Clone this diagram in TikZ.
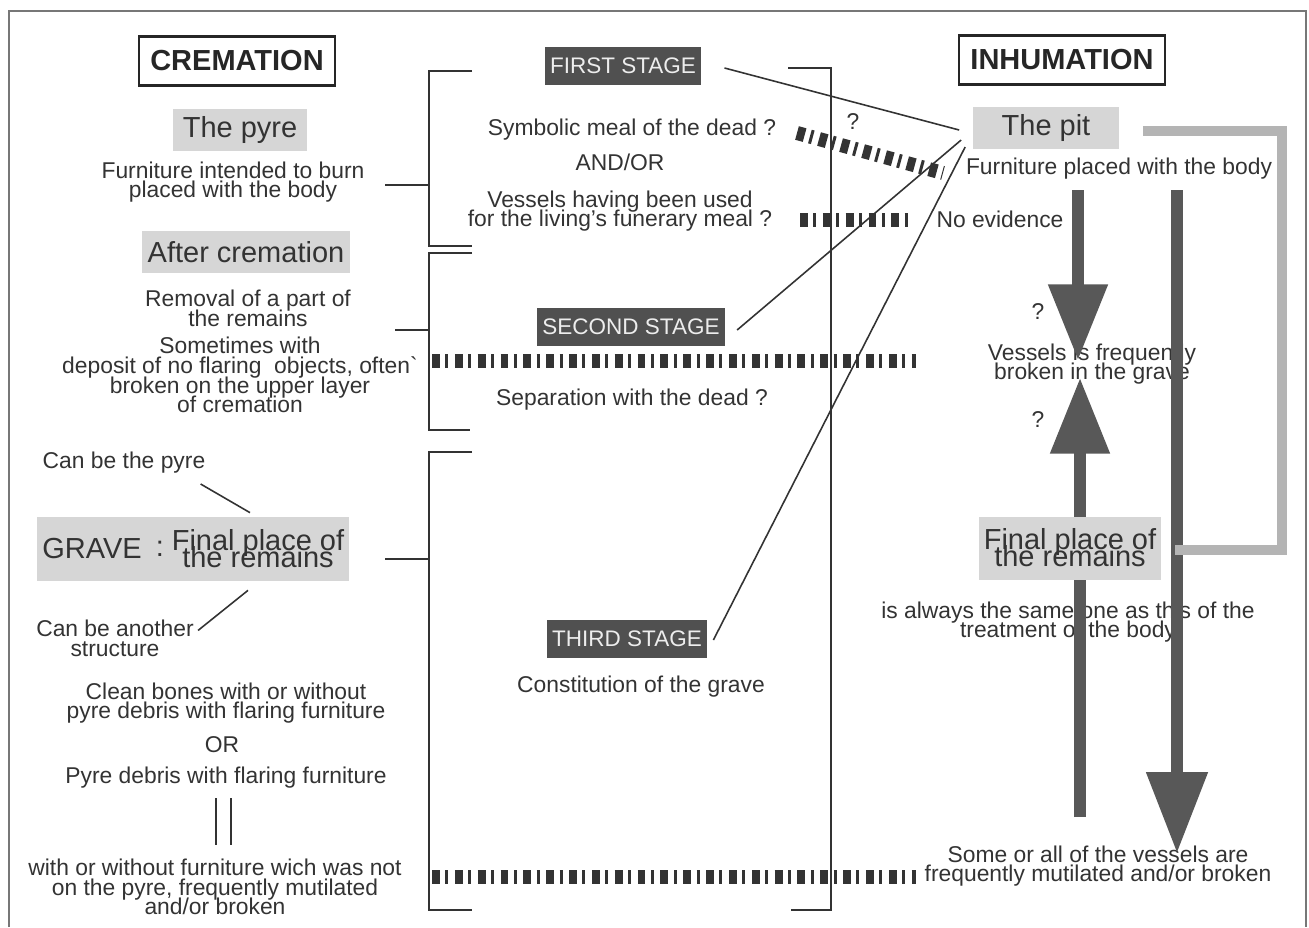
\documentclass[tikz,border=0pt]{standalone}
\usepackage{fontspec}
\setmainfont{Liberation Sans}
\usetikzlibrary{arrows.meta}
\definecolor{Ink}{HTML}{333333}
\definecolor{BoxGray}{HTML}{D6D6D6}
\definecolor{StageGray}{HTML}{505050}
\definecolor{StageText}{HTML}{EDEDED}
\definecolor{ArrowGray}{HTML}{585858}
\definecolor{LoopGray}{HTML}{B4B4B4}
\definecolor{FrameGray}{HTML}{777777}

\begin{document}
\begin{tikzpicture}[x=0.02cm,y=-0.02cm,
      txt/.style={text=Ink,align=center,inner sep=0pt,
                  font={\fontsize{13}{11.2}\selectfont\lineskiplimit=-\maxdimen}},
      big/.style={text=Ink,align=center,inner sep=0pt,
                  font={\fontsize{16.5}{9.8}\selectfont\lineskiplimit=-\maxdimen}},
      hd/.style={draw=black!85,line width=1.4pt,font=\bfseries\fontsize{16.5}{19}\selectfont,
                 text=black!85,inner xsep=6.5pt,minimum height=28pt},
      gbox/.style={big,fill=BoxGray,inner xsep=3pt,minimum height=24pt},
      stg/.style={fill=StageGray,text=StageText,font=\fontsize{12.8}{15}\selectfont,
                  inner xsep=3pt,minimum height=21.5pt},
      brk/.style={draw=Ink,line width=1.1pt},
      ln/.style={draw=Ink,line width=0.9pt},
      bar/.style={draw=Ink,line width=8pt,dash pattern=on 4.5pt off 3.1pt on 1.7pt off 3.7pt},
      fat/.style={ArrowGray,line width=6.3pt,-{Triangle[length=43pt,width=32.5pt]}},
      loop/.style={LoopGray,line width=5.7pt}]
    \useasboundingbox (0,0) rectangle (1309,927);
    \draw[FrameGray,line width=0.6pt] (9,927) -- (9,11) -- (1306,11) -- (1306,927);

    % cremation side
    \node[hd] (crem) at (237,61) {CREMATION};
    \node[gbox,minimum width=2.7cm] (pyre) at (240,130) {The pyre};
    \node[txt] (burn) at (233,182) {Furniture intended to burn\\placed with the body};
    \node[gbox] (after) at (246,252) {After cremation};
    \node[txt] (remov) at (248,308) {Removal of a part of\\the remains};
    \node[txt] (often) at (240,375) {Sometimes with\\deposit of no flaring\ \ objects, often\textasciigrave\\broken on the upper layer\\of cremation};
    \node[txt] (canpyre) at (124,463) {Can be the pyre};
    \node[gbox,minimum width=6.26cm,minimum height=1.28cm] (grave) at (193,549) {};
    \node[big] (gravet) at (92,549) {GRAVE};
    \node[big] (colon) at (160,549) {:};
    \node[big] (finalc) at (258,549) {Final place of\\the remains};
    \node[txt] (canoth) at (115,638) {Can be another\\structure};
    \node[txt] (clean) at (226,703) {Clean bones with or without\\pyre debris with flaring furniture};
    \node[txt] (orr) at (222,745) {OR};
    \node[txt] (debris) at (226,778) {Pyre debris with flaring furniture};
    \node[txt] (mutil) at (215,887) {with or without furniture wich was not\\on the pyre, frequently mutilated\\and/or broken};

    % stages
    \node[stg] (first) at (623,66) {FIRST STAGE};
    \node[txt] (symb) at (632,130) {Symbolic meal of the dead ?};
    \node[txt] (andor) at (620,162) {AND/OR};
    \node[txt] (vess) at (620,211) {Vessels having been used\\for the living's funerary meal ?};
    \node[stg] (second) at (631,327) {SECOND STAGE};
    \node[txt] (separ) at (632,400) {Separation with the dead ?};
    \node[stg] (third) at (627,639) {THIRD STAGE};
    \node[txt] (const) at (641,687) {Constitution of the grave};
    \node[txt] (qm) at (853,122) {?};

    % inhumation side
    \node[hd] (inh) at (1062,60) {INHUMATION};
    \node[gbox,minimum width=2.94cm] (pit) at (1046,128) {The pit};
    \node[txt] (withbody) at (1119,169) {Furniture placed with the body};
    \node[txt] (noev) at (1000,219) {No evidence};
    \node[txt] (qa) at (1038,312) {?};
    \node[txt] (qb) at (1038,420) {?};
    \node[txt] (grv) at (1092,364) {Vessels is frequently\\broken in the grave};
    \node[txt] (same) at (1068,622) {is always the same one as this of the\\treatment of the body};
    \node[txt] (some) at (1098,866) {Some or all of the vessels are\\frequently mutilated and/or broken};

    \draw[bar] (797,133) -- (943,173);
    \draw[bar] (800,220) -- (913,220);
    \draw[bar] (432,361) -- (916,361);
    \draw[bar] (432,877) -- (916,877);

    \draw[brk] (472,71) -- (429,71) -- (429,246) -- (472,246);
    \draw[brk] (472,253) -- (429,253) -- (429,430) -- (470,430);
    \draw[brk] (472,452) -- (429,452) -- (429,910) -- (472,910);
    \draw[brk] (788,68) -- (831,68) -- (831,910) -- (791,910);
    \draw[brk] (385,185) -- (429,185);
    \draw[brk] (395,330) -- (429,330);
    \draw[brk] (385,559) -- (429,559);
    \draw[brk] (216,798) -- (216,845) (231,798) -- (231,845);

    \draw[ln] ([shift={(-5,10)}]canpyre.south east) -- ([shift={(57,-4)}]grave.north);
    \draw[ln] ([shift={(55,9)}]grave.south) -- ([shift={(4,11)}]canoth.north east);

    \coordinate (pa) at ([shift={(-13,2)}]pit.west);
    \coordinate (pb) at ([shift={(-11,12)}]pit.west);
    \coordinate (pc) at ([shift={(-7,19)}]pit.west);
    \draw[ln] ([shift={(23,2)}]first.east) -- (pa);
    \draw[ln] ([shift={(12,3)}]second.east) -- (pb);
    \draw[ln] ([shift={(6,1)}]third.east) -- (pc);

    \coordinate (la) at (1078,190);
    \coordinate (lb) at (1078,360);
    \coordinate (lc) at (1080,817);
    \coordinate (ld) at (1080,378);
    \coordinate (ra) at (1177,190);
    \coordinate (rb) at (1177,853);
    \draw[fat] (la) -- (lb);
    \draw[fat] (lc) -- (ld);
    \draw[fat,-{Triangle[length=46pt,width=33.6pt]}] (ra) -- (rb);

    \node[gbox,minimum width=3.6cm,minimum height=1.26cm] (fin) at (1070,548) {Final place of\\the remains};
    \draw[loop] ([shift={(23,3)}]pit.east) -| ([shift={(120,2)}]fin.east) -- ([shift={(13,2)}]fin.east);
  \end{tikzpicture}
\end{document}
